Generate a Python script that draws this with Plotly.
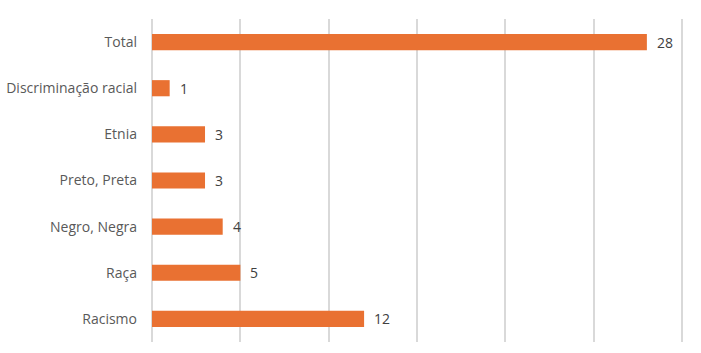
import plotly.graph_objects as go

categories = ["Racismo", "Raça", "Negro, Negra", "Preto, Preta", "Etnia", "Discriminação racial", "Total"]
values = [12, 5, 4, 3, 3, 1, 28]

bar_color = "#E97132"
text_color = "#595959"
font_family = "Open Sans, Noto Sans, sans-serif"

fig = go.Figure()
fig.add_trace(go.Bar(
    x=values,
    y=categories,
    orientation="h",
    marker=dict(color=bar_color, line=dict(width=0)),
    width=0.35,
    hoverinfo="x+y",
))

for c, v in zip(categories, values):
    fig.add_annotation(x=v, y=c, text=str(v), showarrow=False,
                       xanchor="left", xshift=8,
                       font=dict(size=14, color="#404040", family=font_family))

fig.update_layout(
    width=701, height=353,
    margin=dict(l=152, r=17, t=19, b=11, autoexpand=False),
    paper_bgcolor="white",
    plot_bgcolor="white",
    showlegend=False,
    font=dict(family=font_family, size=14, color=text_color),
    xaxis=dict(range=[0, 30.1], tickvals=[0, 5, 10, 15, 20, 25, 30], showgrid=True,
               gridcolor="#D9D9D9", gridwidth=1.5,
               showticklabels=False, zeroline=True, zerolinecolor="#D9D9D9", zerolinewidth=1.5,
               showline=False, fixedrange=True, automargin=False),
    yaxis=dict(categoryorder="array", categoryarray=categories, showgrid=False,
               ticklabelstandoff=14, showline=False, ticks="", automargin=False,
               tickfont=dict(size=14, color=text_color, family=font_family)),
)

fig.write_html("out.html")
